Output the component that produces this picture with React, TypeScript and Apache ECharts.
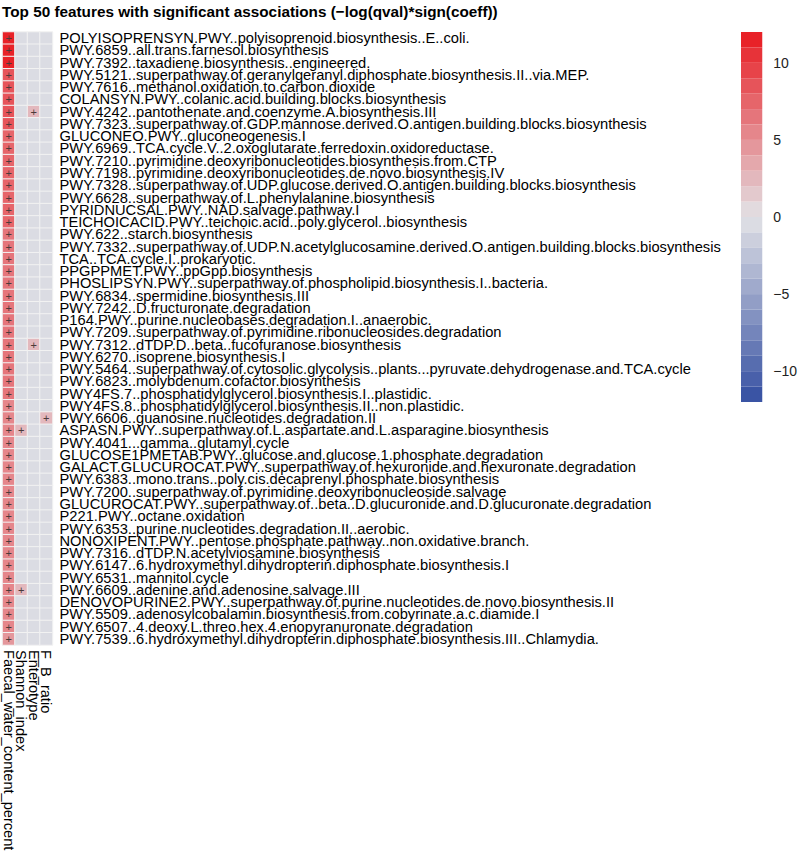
import React, { useEffect, useRef } from "react";
import * as echarts from "echarts";

const TITLE = "Top 50 features with significant associations (\u2212log(qval)*sign(coeff))";

const COLUMNS = ["Faecal_water_content_percent", "Shannon_index", "Enterotype", "F_B_ratio"];

const FEATURES = [
  "POLYISOPRENSYN.PWY..polyisoprenoid.biosynthesis..E..coli.",
  "PWY.6859..all.trans.farnesol.biosynthesis",
  "PWY.7392..taxadiene.biosynthesis..engineered.",
  "PWY.5121..superpathway.of.geranylgeranyl.diphosphate.biosynthesis.II..via.MEP.",
  "PWY.7616..methanol.oxidation.to.carbon.dioxide",
  "COLANSYN.PWY..colanic.acid.building.blocks.biosynthesis",
  "PWY.4242..pantothenate.and.coenzyme.A.biosynthesis.III",
  "PWY.7323..superpathway.of.GDP.mannose.derived.O.antigen.building.blocks.biosynthesis",
  "GLUCONEO.PWY..gluconeogenesis.I",
  "PWY.6969..TCA.cycle.V..2.oxoglutarate.ferredoxin.oxidoreductase.",
  "PWY.7210..pyrimidine.deoxyribonucleotides.biosynthesis.from.CTP",
  "PWY.7198..pyrimidine.deoxyribonucleotides.de.novo.biosynthesis.IV",
  "PWY.7328..superpathway.of.UDP.glucose.derived.O.antigen.building.blocks.biosynthesis",
  "PWY.6628..superpathway.of.L.phenylalanine.biosynthesis",
  "PYRIDNUCSAL.PWY..NAD.salvage.pathway.I",
  "TEICHOICACID.PWY..teichoic.acid..poly.glycerol..biosynthesis",
  "PWY.622..starch.biosynthesis",
  "PWY.7332..superpathway.of.UDP.N.acetylglucosamine.derived.O.antigen.building.blocks.biosynthesis",
  "TCA..TCA.cycle.I..prokaryotic.",
  "PPGPPMET.PWY..ppGpp.biosynthesis",
  "PHOSLIPSYN.PWY..superpathway.of.phospholipid.biosynthesis.I..bacteria.",
  "PWY.6834..spermidine.biosynthesis.III",
  "PWY.7242..D.fructuronate.degradation",
  "P164.PWY..purine.nucleobases.degradation.I..anaerobic.",
  "PWY.7209..superpathway.of.pyrimidine.ribonucleosides.degradation",
  "PWY.7312..dTDP.D..beta..fucofuranose.biosynthesis",
  "PWY.6270..isoprene.biosynthesis.I",
  "PWY.5464..superpathway.of.cytosolic.glycolysis..plants...pyruvate.dehydrogenase.and.TCA.cycle",
  "PWY.6823..molybdenum.cofactor.biosynthesis",
  "PWY4FS.7..phosphatidylglycerol.biosynthesis.I..plastidic.",
  "PWY4FS.8..phosphatidylglycerol.biosynthesis.II..non.plastidic.",
  "PWY.6606..guanosine.nucleotides.degradation.II",
  "ASPASN.PWY..superpathway.of.L.aspartate.and.L.asparagine.biosynthesis",
  "PWY.4041...gamma..glutamyl.cycle",
  "GLUCOSE1PMETAB.PWY..glucose.and.glucose.1.phosphate.degradation",
  "GALACT.GLUCUROCAT.PWY..superpathway.of.hexuronide.and.hexuronate.degradation",
  "PWY.6383..mono.trans..poly.cis.decaprenyl.phosphate.biosynthesis",
  "PWY.7200..superpathway.of.pyrimidine.deoxyribonucleoside.salvage",
  "GLUCUROCAT.PWY..superpathway.of..beta..D.glucuronide.and.D.glucuronate.degradation",
  "P221.PWY..octane.oxidation",
  "PWY.6353..purine.nucleotides.degradation.II..aerobic.",
  "NONOXIPENT.PWY..pentose.phosphate.pathway..non.oxidative.branch.",
  "PWY.7316..dTDP.N.acetylviosamine.biosynthesis",
  "PWY.6147..6.hydroxymethyl.dihydropterin.diphosphate.biosynthesis.I",
  "PWY.6531..mannitol.cycle",
  "PWY.6609..adenine.and.adenosine.salvage.III",
  "DENOVOPURINE2.PWY..superpathway.of.purine.nucleotides.de.novo.biosynthesis.II",
  "PWY.5509..adenosylcobalamin.biosynthesis.from.cobyrinate.a.c.diamide.I",
  "PWY.6507..4.deoxy.L.threo.hex.4.enopyranuronate.degradation",
  "PWY.7539..6.hydroxymethyl.dihydropterin.diphosphate.biosynthesis.III..Chlamydia.",
];

// -log(qval)*sign(coeff) per feature, one array per metadata column
const FAECAL_WATER = [
  11.6, 11.4, 11.2, 8.6, 8.4, 8.3, 8.2, 8.1, 7.8, 7.7,
  7.6, 7.5, 7.4, 7.3, 7.2, 7.1, 6.9, 6.8, 6.7, 6.6,
  6.5, 6.5, 6.4, 6.4, 6.3, 6.3, 6.2, 6.2, 6.1, 6.1,
  5.9, 5.9, 5.8, 5.8, 5.7, 5.7, 5.6, 5.6, 5.5, 5.5,
  5.4, 5.4, 5.3, 5.3, 5.3, 5.2, 5.2, 5.1, 5.1, 5.0,
];
const SHANNON = [
  0, 0, 0, 0, 0, 0, 0, 0, 0, 0,
  0, 0, 0, 0, 0, 0, 0, 0, 0, 0,
  0, 0, 0, 0, 0, 0, 0, 0, 0, 0,
  0, 0, 2.6, 0, 0, 0, 0, 0, 0, 0,
  0, 0, 0, 0, 0, 2.8, 0, 0, 0, 0,
];
const ENTEROTYPE = [
  0, 0, 0, 0, 0, 0, 2.4, 0, 0, 0,
  0, 0, 0, 0, 0, 0, 0, 0, 0, 0,
  0, 0, 0, 0, 0, 2.6, 0, 0, 0, 0,
  0, 0, 0, 0, 0, 0, 0, 0, 0, 0,
  0, 0, 0, 0, 0, 0, 0, 0, 0, 0,
];
const FB_RATIO = [
  0, 0, 0, 0, 0, 0, 0, 0, 0, 0,
  0, 0, 0, 0, 0, 0, 0, 0, 0, 0,
  0, 0, 0, 0, 0, 0, 0, 0, 0, 0,
  0, 2.3, 0, 0, 0, 0, 0, 0, 0, 0,
  0, 0, 0, 0, 0, 0, 0, 0, 0, 0,
];

const BREAKS = [-12, -11, -10, -9, -8, -7, -6, -5, -4, -3, -2, -1, 0, 1, 2, 3, 4, 5, 6, 7, 8, 9, 10, 11, 12];
const LEGEND_TICKS = [-10, -5, 0, 5, 10];

const FONT = "'Liberation Sans', Arial, Helvetica, sans-serif";

function hex(c: number[]) {
  return "#" + c.map((v) => Math.round(v).toString(16).padStart(2, "0")).join("");
}
function ramp(t: number) {
  const blue = [58, 84, 164];
  const grey = [226, 226, 230];
  const red = [232, 34, 40];
  let a: number[], b: number[], u: number;
  if (t < 0.5) { a = blue; b = grey; u = t / 0.5; } else { a = grey; b = red; u = (t - 0.5) / 0.5; }
  return hex(a.map((v, i) => v + (b[i] - v) * u));
}
const nBands = BREAKS.length - 1;
const BAND_COLORS = BREAKS.slice(0, -1).map((_, i) => ramp(i / (nBands - 1)));

export default function App() {
  const ref = useRef<HTMLDivElement>(null);
  useEffect(() => {
    if (!ref.current) return;
    const chart = echarts.init(ref.current, null, { renderer: "svg" });
    const cols = [FAECAL_WATER, SHANNON, ENTEROTYPE, FB_RATIO];
    const data: any[] = [];
    cols.forEach((arr, ci) => arr.forEach((v, ri) => data.push([ci, ri, v])));

    const pieces = BREAKS.slice(0, -1).map((b, i) => ({
      gt: i === 0 ? -Infinity : b,
      lte: i === nBands - 1 ? Infinity : BREAKS[i + 1],
      color: BAND_COLORS[i],
    }));

    const legendSeries: any[] = [];
    for (let i = 0; i < nBands; i++) {
      const lo = BREAKS[i], hi = BREAKS[i + 1];
      if (lo >= 0) {
        legendSeries.push({ type: "bar", xAxisIndex: 1, yAxisIndex: 1, stack: "leg", data: [hi - lo], barWidth: "100%", itemStyle: { color: BAND_COLORS[i] }, silent: true });
      }
    }
    for (let i = nBands - 1; i >= 0; i--) {
      const lo = BREAKS[i], hi = BREAKS[i + 1];
      if (hi <= 0) {
        legendSeries.push({ type: "bar", xAxisIndex: 1, yAxisIndex: 1, stack: "leg", data: [lo - hi], barWidth: "100%", itemStyle: { color: BAND_COLORS[i] }, silent: true });
      }
    }

    chart.setOption({
      animation: false,
      backgroundColor: "#ffffff",
      textStyle: { fontFamily: FONT },
      title: {
        text: TITLE,
        left: 2,
        top: 4,
        padding: 0,
        textStyle: { fontSize: 15.3, fontWeight: "bold", color: "#000", fontFamily: FONT },
      },
      grid: [
        { left: 2.5, top: 32, width: 50, height: 613 },
        { left: 741, top: 32, width: 24, height: 370 },
      ],
      xAxis: [
        {
          type: "category",
          gridIndex: 0,
          data: COLUMNS,
          position: "bottom",
          axisLine: { show: false },
          axisTick: { show: false },
          splitLine: { show: false },
          axisLabel: { rotate: -90, interval: 0, fontSize: 14.6, color: "#000", margin: 5, fontFamily: FONT, lineHeight: 12 },
        },
        { type: "category", gridIndex: 1, data: ["scale"], show: false },
      ],
      yAxis: [
        {
          type: "category",
          gridIndex: 0,
          data: FEATURES,
          inverse: true,
          position: "right",
          axisLine: { show: false },
          axisTick: { show: false },
          splitLine: { show: false },
          axisLabel: { interval: 0, fontSize: 14.7, color: "#000", margin: 7, fontFamily: FONT, lineHeight: 12 },
        },
        {
          type: "value",
          gridIndex: 1,
          min: -12,
          max: 12,
          interval: 1,
          position: "right",
          axisLine: { show: false },
          axisTick: { show: false },
          splitLine: { show: false },
          axisLabel: {
            fontSize: 14,
            color: "#222",
            margin: 11,
            fontFamily: FONT,
            formatter: (v: number) => (LEGEND_TICKS.includes(v) ? String(v).replace("-", "\u2212") : ""),
          },
        },
      ],
      visualMap: {
        type: "piecewise",
        show: false,
        seriesIndex: 0,
        dimension: 2,
        pieces,
      },
      series: [
        {
          type: "heatmap",
          xAxisIndex: 0,
          yAxisIndex: 0,
          data,
          itemStyle: { borderColor: "#f2f2f2", borderWidth: 1 },
          label: {
            show: true,
            fontSize: 11,
            color: "#4a3a3a",
            fontFamily: FONT,
            formatter: (p: any) => (p.value[2] > 0 ? "+" : p.value[2] < 0 ? "\u2212" : ""),
          },
          emphasis: { disabled: true },
        },
        ...legendSeries,
      ],
    });
    return () => chart.dispose();
  }, []);
  return <div ref={ref} style={{ position: "fixed", left: 0, top: 0, width: 800, height: 855 }} />;
}
